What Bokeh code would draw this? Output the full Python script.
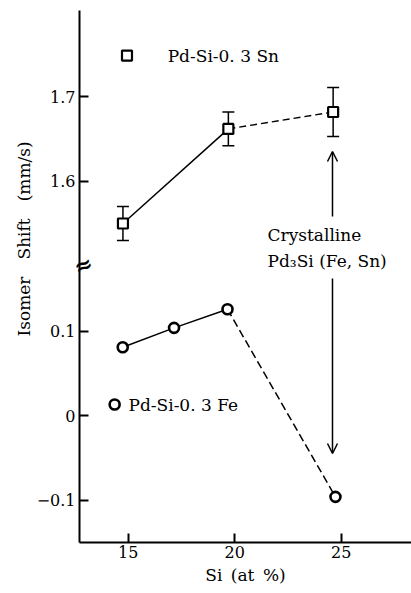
from bokeh.plotting import figure
from bokeh.models import (ColumnDataSource, Whisker, TeeHead, Arrow, OpenHead,
                          FixedTicker, CustomJSTickFormatter, Range1d, Title, LinearAxis)
from bokeh.core.properties import value
from bokeh.embed import file_html
from bokeh.resources import INLINE

# ---- data ----
sn_si = [14.75, 19.7, 24.62]
sn_shift = [1.550, 1.662, 1.682]
sn_err = [0.020, 0.020, 0.029]

fe_si = [14.74, 17.15, 19.66, 24.73]
fe_shift = [0.081, 0.104, 0.126, -0.096]

x_ticks = [15, 20, 25]
y_ticks_lower = [-0.1, 0.0, 0.1]
y_ticks_upper = [1.6, 1.7]

sn_label = "Pd-Si-0. 3 Sn"
fe_label = "Pd-Si-0. 3 Fe"
cryst_lines = ["Crystalline", "Pd\u2083Si (Fe, Sn)"]
x_title = "Si\u2002(at\u2002%)"
y_title = "Isomer\u2003Shift\u2003(mm/s)"

# broken axis: upper segment shifted down by OFFSET
OFFSET = 1.3225
BREAK = 0.183

FONT = "DejaVu Serif"

p = figure(width=411, height=593, output_backend="svg", toolbar_location=None,
           x_range=Range1d(12.71, 28.30), y_range=Range1d(-0.15, 0.4796),
           min_border_left=79, min_border_right=0, min_border_top=10,
           min_border_bottom=51)
p.outline_line_color = None
p.xgrid.visible = False
p.ygrid.visible = False
p.background_fill_color = "white"

sn_y = [v - OFFSET for v in sn_shift]
sn_src = ColumnDataSource(dict(x=sn_si, y=sn_y,
                               upper=[v + e for v, e in zip(sn_y, sn_err)],
                               lower=[v - e for v, e in zip(sn_y, sn_err)]))
fe_src = ColumnDataSource(dict(x=fe_si, y=fe_shift))

# Sn lines: solid then dashed
p.line(sn_si[:2], sn_y[:2], line_color="black", line_width=1.5)
p.line(sn_si[1:], sn_y[1:], line_color="black", line_width=1.5, line_dash="7 4")
# Fe lines
p.line(fe_si[:3], fe_shift[:3], line_color="black", line_width=1.5)
p.line(fe_si[2:], fe_shift[2:], line_color="black", line_width=1.5, line_dash="8 4")

p.add_layout(Whisker(source=sn_src, base="x", upper="upper", lower="lower",
                     line_color="black", line_width=1.5,
                     upper_head=TeeHead(size=12, line_width=1.5, line_color="black"),
                     lower_head=TeeHead(size=12, line_width=1.5, line_color="black")))

p.scatter("x", "y", source=sn_src, marker="square", size=10, fill_color="white",
          line_color="black", line_width=2.2)
p.scatter("x", "y", source=fe_src, marker="circle", size=10, fill_color="white",
          line_color="black", line_width=2.6)

# legend-like labels
p.scatter([14.94], [0.4263], marker="square", size=10, fill_color="white",
          line_color="black", line_width=2.2)
p.text([16.85], [0.4263], text=[sn_label], text_font=value(FONT),
       text_font_size="17px", text_baseline="middle", text_align="left", text_color="black")
p.scatter([14.36], [0.0133], marker="circle", size=10, fill_color="white",
          line_color="black", line_width=2.6)
p.text([15.01], [0.0133], text=[fe_label], text_font=value(FONT),
       text_font_size="17px", text_baseline="middle", text_align="left", text_color="black")

# crystalline annotation
p.text([21.54, 21.54], [0.2145, 0.1837], text=cryst_lines, text_font=value(FONT),
       text_font_size="17px", text_baseline="middle", text_align="left", text_color="black")
p.add_layout(Arrow(x_start=24.59, y_start=0.2358, x_end=24.59, y_end=0.3127,
                   line_width=1.5, line_color="black",
                   end=OpenHead(size=10, line_width=1.5, line_color="black")))
p.add_layout(Arrow(x_start=24.59, y_start=0.1624, x_end=24.59, y_end=-0.0447,
                   line_width=1.5, line_color="black",
                   end=OpenHead(size=10, line_width=1.5, line_color="black")))

# axes
p.xaxis.ticker = FixedTicker(ticks=x_ticks)
p.yaxis.ticker = FixedTicker(ticks=y_ticks_lower + [v - OFFSET for v in y_ticks_upper])
p.yaxis.formatter = CustomJSTickFormatter(args=dict(off=OFFSET), code="""
if (tick > 0.2) return (tick + off).toFixed(1);
if (Math.abs(tick) < 1e-9) return "0";
return (tick < 0 ? "\\u2212" : "") + Math.abs(tick).toFixed(1);
""")
for ax in (p.xaxis[0], p.yaxis[0]):
    ax.axis_line_width = 2
    ax.axis_line_color = "black"
    ax.major_tick_line_width = 2
    ax.major_tick_line_color = "black"
    ax.major_tick_in = 9
    ax.major_tick_out = 0
    ax.minor_tick_line_color = None
    ax.major_label_text_font = FONT
    ax.major_label_text_font_size = "16px"
    ax.major_label_text_color = "black"
    ax.axis_label_text_font = FONT
    ax.axis_label_text_font_size = "17px"
    ax.axis_label_text_font_style = "normal"
    ax.axis_label_text_color = "black"

p.xaxis.axis_label = x_title
p.xaxis.major_label_standoff = 3
p.xaxis.axis_label_standoff = 4
p.yaxis.major_label_standoff = 4

# axis break mark: a label-only axis whose single label sits across the y axis line
brk = LinearAxis(ticker=FixedTicker(ticks=[BREAK]),
                 formatter=CustomJSTickFormatter(code="return '\\u2248';"),
                 axis_line_color=None, major_tick_line_color=None,
                 minor_tick_line_color=None, major_tick_in=0, major_tick_out=0,
                 major_label_standoff=-58, major_label_orientation=0.4,
                 major_label_text_font=FONT, major_label_text_font_size="22px",
                 major_label_text_font_style="bold", major_label_text_color="black")
p.add_layout(brk, "left")

# y axis title, shifted up like the original
p.add_layout(Title(text=y_title, align="left", offset=206, standoff=0,
                   text_font=FONT, text_font_size="17px", text_font_style="normal",
                   text_color="black"), "left")

open("out.html", "w").write(file_html(p, INLINE))
